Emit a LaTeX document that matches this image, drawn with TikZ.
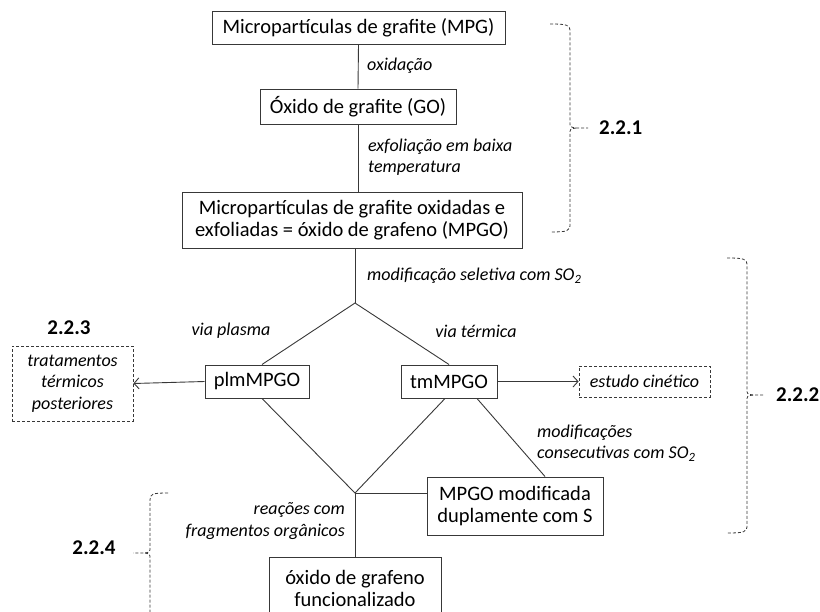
\documentclass[tikz,border=0pt]{standalone}
\usepackage{fontspec}
\setmainfont{Carlito}
\usetikzlibrary{arrows.meta,positioning,calc}
\definecolor{lineGray}{rgb}{0.22,0.22,0.22}

\begin{document}
\begin{tikzpicture}[x=1pt,y=-1pt,
    every node/.style={inner sep=0pt},
    box/.style={draw=lineGray,line width=1pt,fill=white,align=center,font=\fontsize{20.5}{22.5}\selectfont},
    dbox/.style={draw=lineGray,densely dashed,line width=0.8pt,align=center,font=\fontsize{18}{21.5}\selectfont\itshape},
    lbl/.style={align=left,font=\fontsize{18}{21.5}\selectfont\itshape},
    sec/.style={font=\fontsize{21}{23}\selectfont\bfseries},
    link/.style={draw=lineGray,line width=0.9pt},
    brace/.style={draw=lineGray,densely dashed,line width=0.8pt},
    >={Straight Barb[length=5pt,width=11pt]}]

  \useasboundingbox (0,0) rectangle (820,611);

  % draw the boxes of the main route
  \node[box,minimum width=293,minimum height=33] (mpg) at (358.5,27.5) {Micropartículas de grafite (MPG)};
  \node[box,minimum width=196,minimum height=35] (go) at (358,106.5) {Óxido de grafite (GO)};
  \node[box,minimum width=340,minimum height=56] (mpgo) at (352,220) {Micropartículas de grafite oxidadas e\\exfoliadas = óxido de grafeno (MPGO)};
  \node[box,minimum width=104,minimum height=33] (plm) at (257,381.5) {plmMPGO};
  \node[box,minimum width=96,minimum height=33] (tm) at (449,381.5) {tmMPGO};
  \node[box,minimum width=176,minimum height=58] (dmod) at (515,506) {MPGO modificada\\duplamente com S};
  \node[box,minimum width=172,minimum height=62,font=\fontsize{20.5}{22}\selectfont] (fun) at (355,588) {óxido de grafeno\\funcionalizado};

  % the dashed side boxes
  \node[dbox,minimum width=121,minimum height=75] (trat) at (72.5,383.5) {tratamentos\\térmicos\\posteriores};
  \node[dbox,minimum width=131,minimum height=31] (cin) at (644.5,381.5) {estudo cinético};

  % junctions of the diamond
  \coordinate (jt) at (355,303);
  \coordinate (jb) at (355,493);

  % draw the connectors
  \draw[link] (mpg.south) -- (go.north);
  \draw[link] (go.south) -- (go.south |- mpgo.north);
  \draw[link] (mpgo.south -| jt) -- (jt);
  \draw[link] ([xshift=5pt]plm.north) -- (jt) -- (tm.north);
  \draw[link] ([xshift=5pt]plm.south) -- (jb) -- ([xshift=-4pt]tm.south);
  \draw[link] ([xshift=28pt]tm.south) -- ([xshift=30pt]dmod.north);
  \draw[link] (jb) -- (jb -| dmod.west);
  \draw[link] (jb) -- (fun.north);
  \draw[link,->] (plm.west) -- (trat.east);
  \draw[link,->] (tm.east) -- (cin.west);

  % label the steps
  \node[lbl,anchor=west] (oxi) at (367,66) {oxidação};
  \node[lbl,anchor=west] (exf) at (368,157) {exfoliação em baixa\\temperatura};
  \node[lbl,anchor=west] (sel) at (367,276) {modificação seletiva com SO\textsubscript{2}};
  \node[lbl] (plasma) at (231,331) {via plasma};
  \node[lbl] (termica) at (476,331) {via térmica};
  \node[lbl,anchor=west] (cons) at (537,443) {modificações\\consecutivas com SO\textsubscript{2}};
  \node[lbl,align=right,anchor=east] (reac) at (345,521) {reações com\\fragmentos orgânicos};

  % draw the section braces
  \foreach \bx/\btop/\bbot/\bmid/\bname [count=\i] in {550/24/232/128/2.2.1, 727/258/533/395/2.2.2}
  {
    \draw[brace] (\bx,\btop) .. controls (\bx+18,\btop) and (\bx+20,\btop+1) .. (\bx+20,\btop+8)
      -- (\bx+20,\bmid-6) .. controls (\bx+20,\bmid-1) .. (\bx+26,\bmid) -- (\bx+38,\bmid);
    \draw[brace] (\bx+26,\bmid) .. controls (\bx+20,\bmid+1) .. (\bx+20,\bmid+6)
      -- (\bx+20,\bbot-8) .. controls (\bx+20,\bbot-1) and (\bx+18,\bbot) .. (\bx,\bbot);
    \node[sec,anchor=west] (sec\i) at (\bx+49,\bmid) {\bname};
  }
  \draw[brace] (168,493) .. controls (152,493) and (150,494) .. (150,500)
    -- (150,547) .. controls (150,552) .. (145,553) -- (133,553);
  \draw[brace] (145,553) .. controls (150,554) .. (150,559) -- (150,620);
  \node[sec] (sec224) at (94,548) {2.2.4};
  \node[sec] (sec223) at (69,328) {2.2.3};

\end{tikzpicture}
\end{document}
